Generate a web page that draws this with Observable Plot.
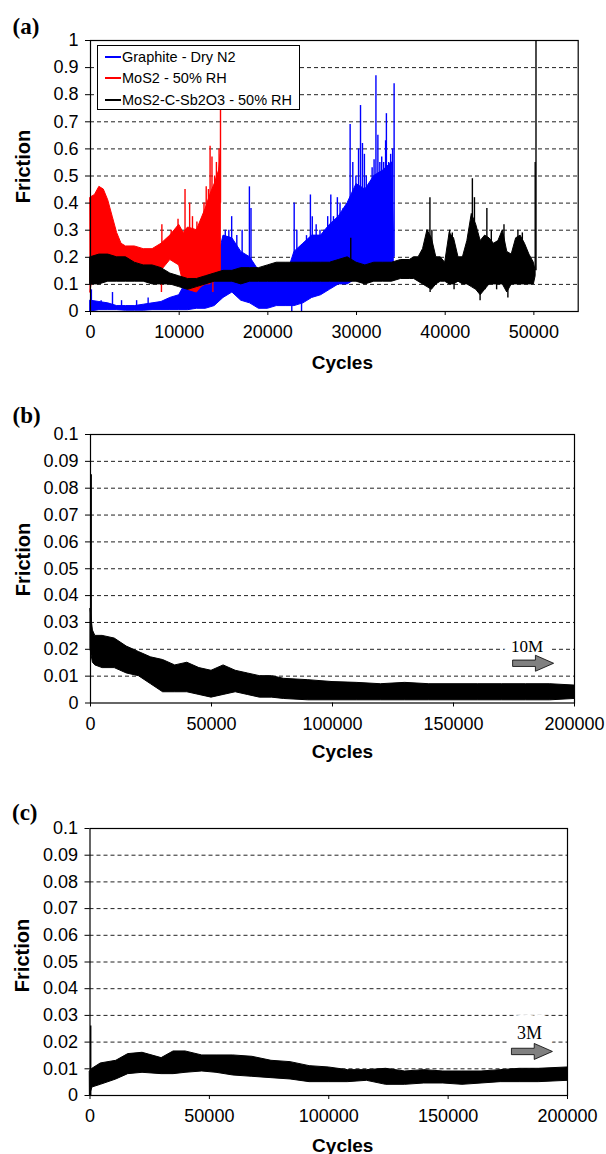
<!DOCTYPE html>
<html><head><meta charset="utf-8">
<script src="https://cdn.jsdelivr.net/npm/d3@7"></script>
<script src="https://cdn.jsdelivr.net/npm/@observablehq/plot@0.6"></script>
<style>
body{margin:0;background:#fff;}
#wrap{position:relative;width:606px;height:1154px;font-family:"Liberation Sans",Arial,sans-serif;}
.panel{position:absolute;left:0;}
#wrap g[aria-label$="tick label"]{font-size:18px !important;}
#legend{position:absolute;left:97px;top:45px;width:201px;height:63px;border:1.5px solid #000;background:#fff;font-size:14.5px;color:#000;}
#legend .row{position:absolute;left:7px;height:16px;line-height:16px;white-space:nowrap;}
#legend .sw{display:inline-block;width:16px;height:1.7px;vertical-align:middle;margin-right:1px;position:relative;top:-1px;}
</style></head>
<body>
<div id="wrap"></div>
<script>
// ---------- Panel (a) ----------
const seriesNames = ["Graphite - Dry N2", "MoS2 - 50% RH", "MoS2-C-Sb2O3 - 50% RH"];
const seriesColors = ["#0000ff", "#ff0000", "#000000"];
const xTicksA = [0, 10000, 20000, 30000, 40000, 50000];
const yTicksA = [0, 0.1, 0.2, 0.3, 0.4, 0.5, 0.6, 0.7, 0.8, 0.9, 1];
const gridA = [0.1, 0.2, 0.3, 0.4, 0.5, 0.6, 0.7, 0.8, 0.9];

// Graphite envelope
const graphiteX  = [0,1000,2000,3000,4000,5000,6000,7000,8000,9000,10000,11000,12000,13000,14000,15000,16000,17000,18000,19000,20000,21000,22000,23000,24000,25000,26000,27000,28000,29000,30000,31000,32000,33000,34000,34200];
const graphiteLo = [0.0,0.005,0.005,0.005,0.003,0.003,0.003,0.005,0.005,0.005,0.005,0.005,0.01,0.01,0.02,0.05,0.07,0.04,0.03,0.01,0.01,0.02,0.02,0.02,0.03,0.05,0.06,0.08,0.1,0.1,0.12,0.12,0.15,0.15,0.15,0.17];
const graphiteHi = [0.04,0.035,0.03,0.02,0.02,0.02,0.025,0.03,0.035,0.05,0.06,0.12,0.12,0.12,0.14,0.28,0.27,0.22,0.2,0.15,0.12,0.12,0.12,0.22,0.25,0.28,0.28,0.32,0.35,0.4,0.47,0.45,0.5,0.52,0.55,0.3];
const graphiteSpikeX   = [100,1200,2480,3500,5200,6500,15200,15600,15920,16500,17100,17920,18100,22970,23270,23710,24360,24800,25010,25450,25880,26320,26750,27100,27400,27840,28140,28490,28840,29280,29580,29930,30230,30450,30670,30890,31100,31760,31980,32190,32410,32630,32840,33060,33280,33370,33630,33850,34070,34240];
const graphiteSpikeTop = [0.08,0.04,0.07,0.04,0.04,0.05,0.3,0.3,0.35,0.28,0.3,0.46,0.38,0.4,0.3,0.22,0.28,0.43,0.35,0.32,0.3,0.3,0.35,0.43,0.35,0.42,0.4,0.38,0.38,0.69,0.55,0.5,0.6,0.76,0.62,0.58,0.5,0.53,0.56,0.87,0.65,0.55,0.57,0.55,0.63,0.73,0.55,0.58,0.6,0.84];
const graphiteSpikeBase= [0.01,0.01,0.01,0.01,0.01,0.01,0.1,0.1,0.1,0.1,0.1,0.05,0.05,0.05,0.1,0.1,0.1,0.1,0.1,0.1,0.1,0.1,0.15,0.15,0.15,0.15,0.15,0.15,0.15,0.2,0.2,0.2,0.2,0.2,0.2,0.2,0.2,0.2,0.2,0.2,0.2,0.2,0.2,0.2,0.2,0.2,0.2,0.2,0.2,0.2];
const graphiteDipX   = [22700, 23800];
const graphiteDipLow = [0.0, 0.0];
const graphiteDipTop = [0.1, 0.1];

// MoS2 envelope
const mos2X  = [0,500,1000,1500,2000,2500,3000,3500,4000,5000,6000,7000,8000,9000,10000,10500,11000,12000,12500,13000,13500,14000,14500,14700];
const mos2Lo = [0.07,0.2,0.2,0.2,0.2,0.2,0.19,0.19,0.19,0.18,0.17,0.16,0.15,0.19,0.17,0.1,0.08,0.07,0.09,0.1,0.1,0.12,0.12,0.13];
const mos2Hi = [0.42,0.43,0.46,0.45,0.41,0.35,0.29,0.25,0.24,0.24,0.23,0.23,0.25,0.28,0.32,0.29,0.31,0.3,0.34,0.38,0.43,0.47,0.52,0.58];
const mos2SpikeX   = [8050,9100,9870,10200,10660,11180,11500,12000,12500,12800,13050,13300,13485,13700,14000,14200,14500,14660];
const mos2SpikeTop = [0.32,0.3,0.34,0.3,0.45,0.4,0.35,0.33,0.34,0.4,0.46,0.45,0.61,0.57,0.5,0.55,0.6,0.75];
const mos2SpikeBase= [0.2,0.22,0.25,0.25,0.25,0.25,0.25,0.25,0.25,0.3,0.3,0.3,0.35,0.35,0.4,0.4,0.4,0.4];
const mos2DipX   = [8000, 13800];
const mos2DipLow = [0.07, 0.07];
const mos2DipTop = [0.16, 0.12];

// MoS2-C-Sb2O3 envelope
const compX  = [0,1000,2000,3000,4000,5000,6000,7000,8000,9000,10000,11000,12000,13000,14000,15000,16000,17000,18000,19000,20000,21000,22000,23000,24000,25000,26000,27000,28000,29000,30000,31000,32000,33000,34000,35000,36000,36500,37000,37500,38000,38500,39000,39500,40000,40500,41000,41500,42000,42500,43000,43500,44000,44500,45000,45500,46000,46500,47000,47500,48000,48500,49000,49500,50000,50200];
const compLo = [0.1,0.1,0.11,0.11,0.11,0.11,0.11,0.1,0.1,0.1,0.09,0.08,0.09,0.1,0.11,0.11,0.11,0.1,0.11,0.11,0.11,0.11,0.11,0.11,0.11,0.11,0.11,0.11,0.11,0.11,0.11,0.1,0.11,0.11,0.11,0.12,0.12,0.12,0.11,0.1,0.09,0.08,0.1,0.11,0.11,0.1,0.1,0.11,0.1,0.1,0.09,0.08,0.06,0.08,0.1,0.1,0.1,0.1,0.07,0.1,0.1,0.1,0.1,0.1,0.1,0.13];
const compHi = [0.2,0.21,0.21,0.2,0.2,0.18,0.17,0.17,0.16,0.14,0.13,0.12,0.12,0.13,0.14,0.15,0.15,0.16,0.16,0.16,0.17,0.18,0.18,0.18,0.18,0.18,0.18,0.18,0.19,0.2,0.18,0.17,0.18,0.18,0.18,0.19,0.19,0.2,0.2,0.23,0.3,0.27,0.2,0.2,0.18,0.29,0.27,0.2,0.2,0.26,0.36,0.32,0.26,0.28,0.27,0.25,0.26,0.3,0.22,0.21,0.27,0.28,0.25,0.21,0.18,0.15];
const compSpikeX   = [29350,38000,38280,38500,40500,40800,43065,43300,44700,45200,46630,48200,48700,50150,50240];
const compSpikeTop = [0.27,0.3,0.42,0.3,0.3,0.29,0.49,0.42,0.38,0.3,0.32,0.3,0.29,0.55,1.0];
const compSpikeBase= [0.15,0.2,0.2,0.2,0.2,0.2,0.2,0.2,0.2,0.2,0.2,0.2,0.2,0.15,0.15];
const compDipX   = [38300,41000,43935,44500,45800,47070];
const compDipLow = [0.07,0.08,0.04,0.08,0.08,0.05];
const compDipTop = [0.12,0.12,0.12,0.12,0.12,0.12];

// ---------- Panel (b) ----------
const xTicksBC = [0, 50000, 100000, 150000, 200000];
const yTicksBC = [0, 0.01, 0.02, 0.03, 0.04, 0.05, 0.06, 0.07, 0.08, 0.09, 0.1];
const gridBC = [0.01, 0.02, 0.03, 0.04, 0.05, 0.06, 0.07, 0.08, 0.09];
const bX  = [0,1000,2000,5000,10000,15000,20000,25000,30000,35000,40000,45000,50000,55000,60000,65000,70000,75000,80000,90000,100000,110000,120000,130000,140000,150000,160000,170000,180000,190000,200000];
const bLo = [0.02,0.015,0.014,0.013,0.013,0.011,0.01,0.007,0.004,0.004,0.004,0.003,0.002,0.003,0.004,0.003,0.002,0.002,0.0015,0.001,0.001,0.001,0.001,0.001,0.001,0.001,0.001,0.001,0.001,0.001,0.0015];
const bHi = [0.035,0.027,0.025,0.025,0.024,0.021,0.019,0.017,0.016,0.014,0.015,0.013,0.012,0.014,0.012,0.011,0.01,0.01,0.009,0.0085,0.0078,0.0075,0.007,0.0075,0.007,0.007,0.007,0.007,0.007,0.007,0.0065];
const bSpikeX = [300], bSpikeBase = [0.02], bSpikeTop = [0.085];
const bNote = ["10M"], bNoteX = [180400], bNoteY = [0.0212];
const bArrowX = [182900], bArrowY = [0.0148];

// ---------- Panel (c) ----------
const cX  = [0,1000,4500,11000,16000,22000,30000,35000,40000,47000,53000,60000,68000,76000,84000,92000,100000,108000,116000,124000,132000,140000,148000,156000,164000,172000,180000,188000,200000];
const cLo = [0.0,0.003,0.004,0.006,0.008,0.0085,0.008,0.008,0.0085,0.009,0.0085,0.0075,0.007,0.0065,0.006,0.005,0.005,0.005,0.0055,0.004,0.004,0.0045,0.0045,0.004,0.0045,0.005,0.005,0.005,0.0055];
const cHi = [0.009,0.01,0.012,0.013,0.0155,0.016,0.014,0.0165,0.0165,0.015,0.015,0.015,0.0145,0.013,0.0125,0.011,0.0105,0.0095,0.0095,0.01,0.009,0.0095,0.009,0.009,0.009,0.0095,0.01,0.01,0.0105];
const cSpikeX = [300], cSpikeBase = [0.0], cSpikeTop = [0.026];
const cNote = ["3M"], cNoteX = [184100], cNoteY = [0.0234];
const cArrowX = [185100], cArrowY = [0.0165];

const panelLabels = ["(a)", "(b)", "(c)"];
const yLabel = ["Friction"], xLabel = ["Cycles"];

// ---------- helpers ----------
const zip = (xs, lo, hi) => xs.map((x, i) => ({x, lo: lo[i], hi: hi[i]}));
const fmt = d => String(d);

const blockArrow = {
  draw(ctx, size) {
    const s = Math.sqrt(size / Math.PI);
    ctx.moveTo(-2.05*s, -0.32*s);
    ctx.lineTo(0.23*s, -0.32*s);
    ctx.lineTo(0.23*s, -0.8*s);
    ctx.lineTo(2.05*s, 0);
    ctx.lineTo(0.23*s, 0.8*s);
    ctx.lineTo(0.23*s, 0.32*s);
    ctx.lineTo(-2.05*s, 0.32*s);
    ctx.closePath();
  }
};

function seriesMarks(xs, lo, hi, color, sx, sb, st, dx, dl, dt) {
  const marks = [
    Plot.areaY(zip(xs, lo, hi), {x: "x", y1: "lo", y2: "hi", fill: color, stroke: color, strokeWidth: 1, curve: "linear"})
  ];
  if (sx) marks.push(Plot.ruleX(zip(sx, sb, st), {x: "x", y1: "lo", y2: "hi", stroke: color, strokeWidth: 1.4}));
  if (dx) marks.push(Plot.ruleX(zip(dx, dl, dt), {x: "x", y1: "lo", y2: "hi", stroke: color, strokeWidth: 1.4}));
  return marks;
}

function commonText(label, cfg) {
  return [
    Plot.text([label], {frameAnchor: "top-left", dx: cfg.pdx, dy: cfg.pdy, textAnchor: "start", lineAnchor: "middle",
      fontFamily: "Liberation Serif, Times New Roman, serif", fontWeight: "bold", fontSize: 23}),
    Plot.text(yLabel, {frameAnchor: "left", rotate: -90, dx: cfg.fdx, dy: cfg.fdy, textAnchor: "middle", fontWeight: "bold", fontSize: 20, lineAnchor: "middle"}),
    Plot.text(xLabel, {frameAnchor: "bottom", dx: cfg.cdx, dy: cfg.cdy, textAnchor: "middle", fontWeight: "bold", fontSize: 19, lineAnchor: "middle"})
  ];
}

const style = {fontFamily: "Liberation Sans, Arial, sans-serif", fontSize: "18px", color: "#000", background: "#fff", overflow: "visible"};
const axisFont = 18;

const wrap = document.getElementById("wrap");
function place(svg, top) {
  const d = document.createElement("div");
  d.className = "panel"; d.style.top = top + "px";
  d.appendChild(svg); wrap.appendChild(d);
  return d;
}

// Panel (a)
const plotA = Plot.plot({
  width: 606, height: 380,
  marginLeft: 90, marginRight: 28.3, marginTop: 40, marginBottom: 69,
  style,
  x: {domain: [0, 55000]},
  y: {domain: [0, 1]},
  marks: [
    Plot.ruleY(gridA, {stroke: "#222", strokeDasharray: "4,3", strokeWidth: 1}),
    ...seriesMarks(graphiteX, graphiteLo, graphiteHi, seriesColors[0], graphiteSpikeX, graphiteSpikeBase, graphiteSpikeTop, graphiteDipX, graphiteDipLow, graphiteDipTop),
    ...seriesMarks(mos2X, mos2Lo, mos2Hi, seriesColors[1], mos2SpikeX, mos2SpikeBase, mos2SpikeTop, mos2DipX, mos2DipLow, mos2DipTop),
    ...seriesMarks(compX, compLo, compHi, seriesColors[2], compSpikeX, compSpikeBase, compSpikeTop, compDipX, compDipLow, compDipTop),
    Plot.frame({stroke: "#000", strokeWidth: 1.2}),
    Plot.axisX({ticks: xTicksA, tickFormat: fmt, tickSize: 4, tickPadding: 10, label: null, fontSize: axisFont}),
    Plot.axisY({ticks: yTicksA, tickFormat: fmt, tickSize: 5, tickPadding: 7, label: null, fontSize: axisFont}),
    ...commonText(panelLabels[0], {pdx: -78, pdy: -14, fdx: -67.4, fdy: -9.5, cdx: 8, cdy: 51})
  ]
});
place(plotA, 0);

// legend
const leg = document.createElement("div");
leg.id = "legend";
seriesNames.forEach((n, i) => {
  const r = document.createElement("div");
  r.className = "row";
  r.style.top = [3, 24, 46][i] + "px";
  r.innerHTML = `<span class="sw" style="background:${seriesColors[i]}"></span>${n}`;
  leg.appendChild(r);
});
wrap.appendChild(leg);

// Panel (b)
const plotB = Plot.plot({
  width: 606, height: 380,
  marginLeft: 90, marginRight: 32, marginTop: 44, marginBottom: 67.5,
  style,
  x: {domain: [0, 200000]},
  y: {domain: [0, 0.1]},
  marks: [
    Plot.ruleY(gridBC, {stroke: "#222", strokeDasharray: "4,3", strokeWidth: 1}),
    ...seriesMarks(bX, bLo, bHi, "#000", bSpikeX, bSpikeBase, bSpikeTop),
    Plot.text(bNote, {x: bNoteX, y: bNoteY, fontFamily: "Liberation Serif, Times New Roman, serif", fontSize: 17, stroke: "#fff", strokeWidth: 16, fill: "#000", lineAnchor: "middle"}),
    Plot.dot(bArrowX, {x: d => d, y: bArrowY, symbol: blockArrow, r: 10, fill: "#808080", stroke: "#000", strokeWidth: 0.8}),
    Plot.frame({stroke: "#000", strokeWidth: 1.2}),
    Plot.axisX({ticks: xTicksBC, tickFormat: fmt, tickSize: 4, tickPadding: 10, label: null, fontSize: axisFont}),
    Plot.axisY({ticks: yTicksBC, tickFormat: fmt, tickSize: 5, tickPadding: 7, label: null, fontSize: axisFont}),
    ...commonText(panelLabels[1], {pdx: -78, pdy: -19, fdx: -67.4, fdy: -9.25, cdx: 10, cdy: 49})
  ]
});
place(plotB, 390);

// Panel (c)
const plotC = Plot.plot({
  width: 606, height: 374,
  marginLeft: 89.5, marginRight: 39, marginTop: 48, marginBottom: 59,
  style,
  x: {domain: [0, 200000]},
  y: {domain: [0, 0.1]},
  marks: [
    Plot.ruleY(gridBC, {stroke: "#222", strokeDasharray: "4,3", strokeWidth: 1}),
    ...seriesMarks(cX, cLo, cHi, "#000", cSpikeX, cSpikeBase, cSpikeTop),
    Plot.text(cNote, {x: cNoteX, y: cNoteY, fontFamily: "Liberation Serif, Times New Roman, serif", fontSize: 18, stroke: "#fff", strokeWidth: 22, fill: "#000", lineAnchor: "middle"}),
    Plot.dot(cArrowX, {x: d => d, y: cArrowY, symbol: blockArrow, r: 10, fill: "#808080", stroke: "#000", strokeWidth: 0.8}),
    Plot.frame({stroke: "#000", strokeWidth: 1.2}),
    Plot.axisX({ticks: xTicksBC, tickFormat: fmt, tickSize: 4, tickPadding: 10, label: null, fontSize: axisFont}),
    Plot.axisY({ticks: yTicksBC, tickFormat: fmt, tickSize: 5, tickPadding: 7, label: null, fontSize: axisFont}),
    ...commonText(panelLabels[2], {pdx: -78, pdy: -16, fdx: -67, fdy: -6.5, cdx: 14, cdy: 50})
  ]
});
place(plotC, 780);
</script>
</body></html>
